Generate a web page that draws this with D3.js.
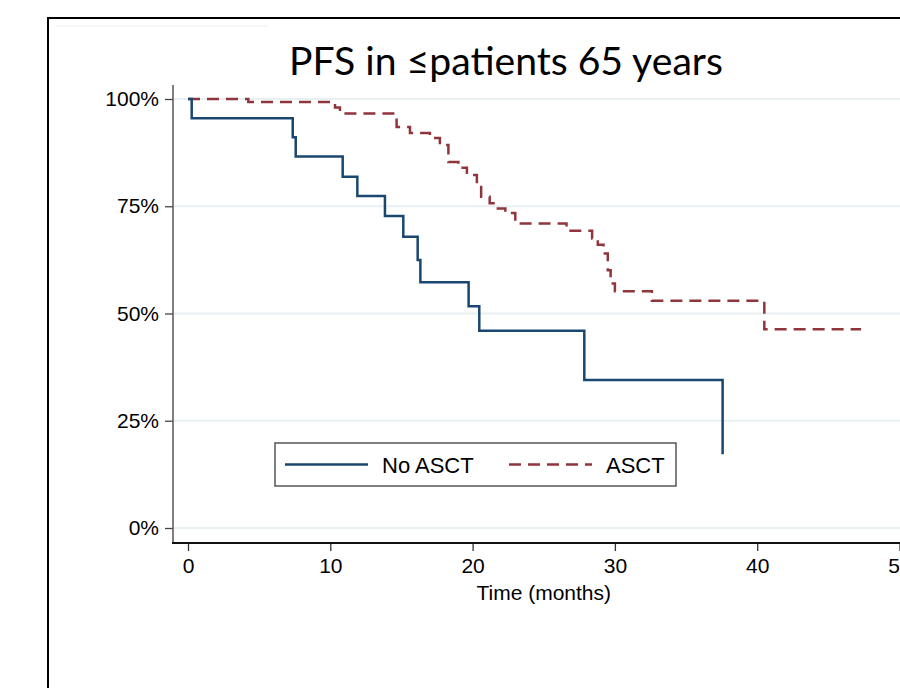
<!DOCTYPE html>
<html>
<head>
<meta charset="utf-8">
<script src="https://cdn.jsdelivr.net/npm/d3@7"></script>
<style>
  body { margin: 0; background: #fff; }
  svg { display: block; }
</style>
</head>
<body>
<svg width="900" height="688"></svg>
<script>
// Kaplan-Meier steps
const noAsctTime = [0, 0.26, 7.36, 7.57, 10.87, 11.9, 13.84, 15.13, 16.14, 16.33, 19.72, 20.47, 27.85, 37.57];
const noAsctSurv = [1, 0.955, 0.911, 0.866, 0.819, 0.774, 0.727, 0.679, 0.625, 0.573, 0.517, 0.46, 0.345, 0.172];

const asctTime = [0, 4.24, 10.33, 10.68, 14.66, 15.6, 17.0, 17.7, 18.3, 19.0, 19.6, 20.3, 20.6, 21.2, 21.6, 22.3, 23.0, 26.6, 28.4, 28.8, 29.2, 29.5, 29.7, 30.0, 32.6, 40.5, 47.3];
const asctSurv = [1, 0.993, 0.98, 0.966, 0.935, 0.921, 0.909, 0.893, 0.853, 0.84, 0.823, 0.8, 0.772, 0.757, 0.745, 0.734, 0.71, 0.693, 0.675, 0.66, 0.64, 0.601, 0.57, 0.552, 0.53, 0.463, 0.463];

const xTicks = [0, 10, 20, 30, 40, 50];
const yTicks = [0, 0.25, 0.5, 0.75, 1];
const seriesNames = ['No ASCT', 'ASCT'];
const seriesColors = ['#1a476f', '#90353b'];
const titleText = 'PFS in \u2264patients 65 years';
const xTitle = 'Time (months)';

const svg = d3.select('svg');
const tickFont = '"Liberation Sans", Arial, sans-serif';

const x = d3.scaleLinear().domain([0, 50]).range([188, 899.5]);
const y = d3.scaleLinear().domain([0, 1]).range([528, 99]);

// outer frame (runs off the page on right and bottom)
svg.append('rect')
  .attr('x', 48).attr('y', 18)
  .attr('width', 900).attr('height', 700)
  .attr('fill', 'none').attr('stroke', '#000').attr('stroke-width', 2);
svg.append('line')
  .attr('x1', 56).attr('x2', 268).attr('y1', 26).attr('y2', 26)
  .attr('stroke', '#eef3f3').attr('stroke-width', 1.5);

// title, fitted to the width seen in the picture
const title = svg.append('text')
  .attr('x', 506).attr('y', 75)
  .attr('text-anchor', 'middle')
  .style('font-family', 'Lato, "Open Sans", sans-serif')
  .style('font-size', '36px')
  .attr('fill', '#000')
  .text(titleText);
const tw = title.node().getComputedTextLength();
title.style('font-size', (36 * 434 / tw) + 'px');

// gridlines
svg.append('g')
  .selectAll('line')
  .data(yTicks)
  .enter()
  .append('line')
  .attr('x1', 174).attr('x2', 900)
  .attr('y1', (d) => y(d)).attr('y2', (d) => y(d))
  .attr('stroke', '#e9f0f2').attr('stroke-width', 2);

// y axis
const yAxis = svg.append('g')
  .attr('transform', 'translate(173,0)')
  .call(d3.axisLeft(y).tickValues(yTicks).tickFormat(d3.format('.0%')).tickSize(8).tickPadding(6));
yAxis.select('.domain').remove();
yAxis.selectAll('.tick line').attr('stroke', '#444').attr('stroke-width', 1.3);
yAxis.selectAll('.tick text')
  .style('font-family', tickFont).style('font-size', '21px').attr('fill', '#000');
svg.append('line')
  .attr('x1', 173).attr('x2', 173).attr('y1', 85).attr('y2', 543)
  .attr('stroke', '#555').attr('stroke-width', 1.5);

// x axis
const xAxis = svg.append('g')
  .attr('transform', 'translate(0,543)')
  .call(d3.axisBottom(x).tickValues(xTicks).tickSize(8).tickPadding(7));
xAxis.select('.domain').remove();
xAxis.selectAll('.tick line').attr('stroke', '#333').attr('stroke-width', 1.3);
xAxis.selectAll('.tick text')
  .style('font-family', tickFont).style('font-size', '21px').attr('fill', '#000');
svg.append('line')
  .attr('x1', 172).attr('x2', 900).attr('y1', 543).attr('y2', 543)
  .attr('stroke', '#111').attr('stroke-width', 1.8);

svg.append('text')
  .attr('x', x(25)).attr('y', 600)
  .attr('text-anchor', 'middle')
  .style('font-family', tickFont).style('font-size', '21px')
  .text(xTitle);

// curves
const line = d3.line()
  .x((d) => x(d[0]))
  .y((d) => y(d[1]))
  .curve(d3.curveStepAfter);

const series = [
  { name: seriesNames[0], pts: d3.zip(noAsctTime, noAsctSurv), color: seriesColors[0], dash: null },
  { name: seriesNames[1], pts: d3.zip(asctTime, asctSurv), color: seriesColors[1], dash: '12,7' },
];

svg.append('g')
  .selectAll('path')
  .data(series.slice().reverse())
  .enter()
  .append('path')
  .attr('d', (d) => line(d.pts))
  .attr('fill', 'none')
  .attr('stroke', (d) => d.color)
  .attr('stroke-width', 2.5)
  .attr('stroke-dasharray', (d) => d.dash);

// legend
const lg = svg.append('g');
lg.append('rect')
  .attr('x', 275).attr('y', 443).attr('width', 401).attr('height', 43)
  .attr('fill', '#fff').attr('stroke', '#555').attr('stroke-width', 1.5);
const items = lg.selectAll('g')
  .data(series)
  .enter()
  .append('g')
  .attr('transform', (d, i) => `translate(${i ? 509 : 285},464.5)`);
items.append('line')
  .attr('x1', 0).attr('x2', 83)
  .attr('stroke', (d) => d.color)
  .attr('stroke-width', 2.5)
  .attr('stroke-dasharray', (d) => d.dash);
items.append('text')
  .attr('x', 97).attr('y', 8)
  .style('font-family', tickFont).style('font-size', '22px')
  .text((d) => d.name);
</script>
</body>
</html>
